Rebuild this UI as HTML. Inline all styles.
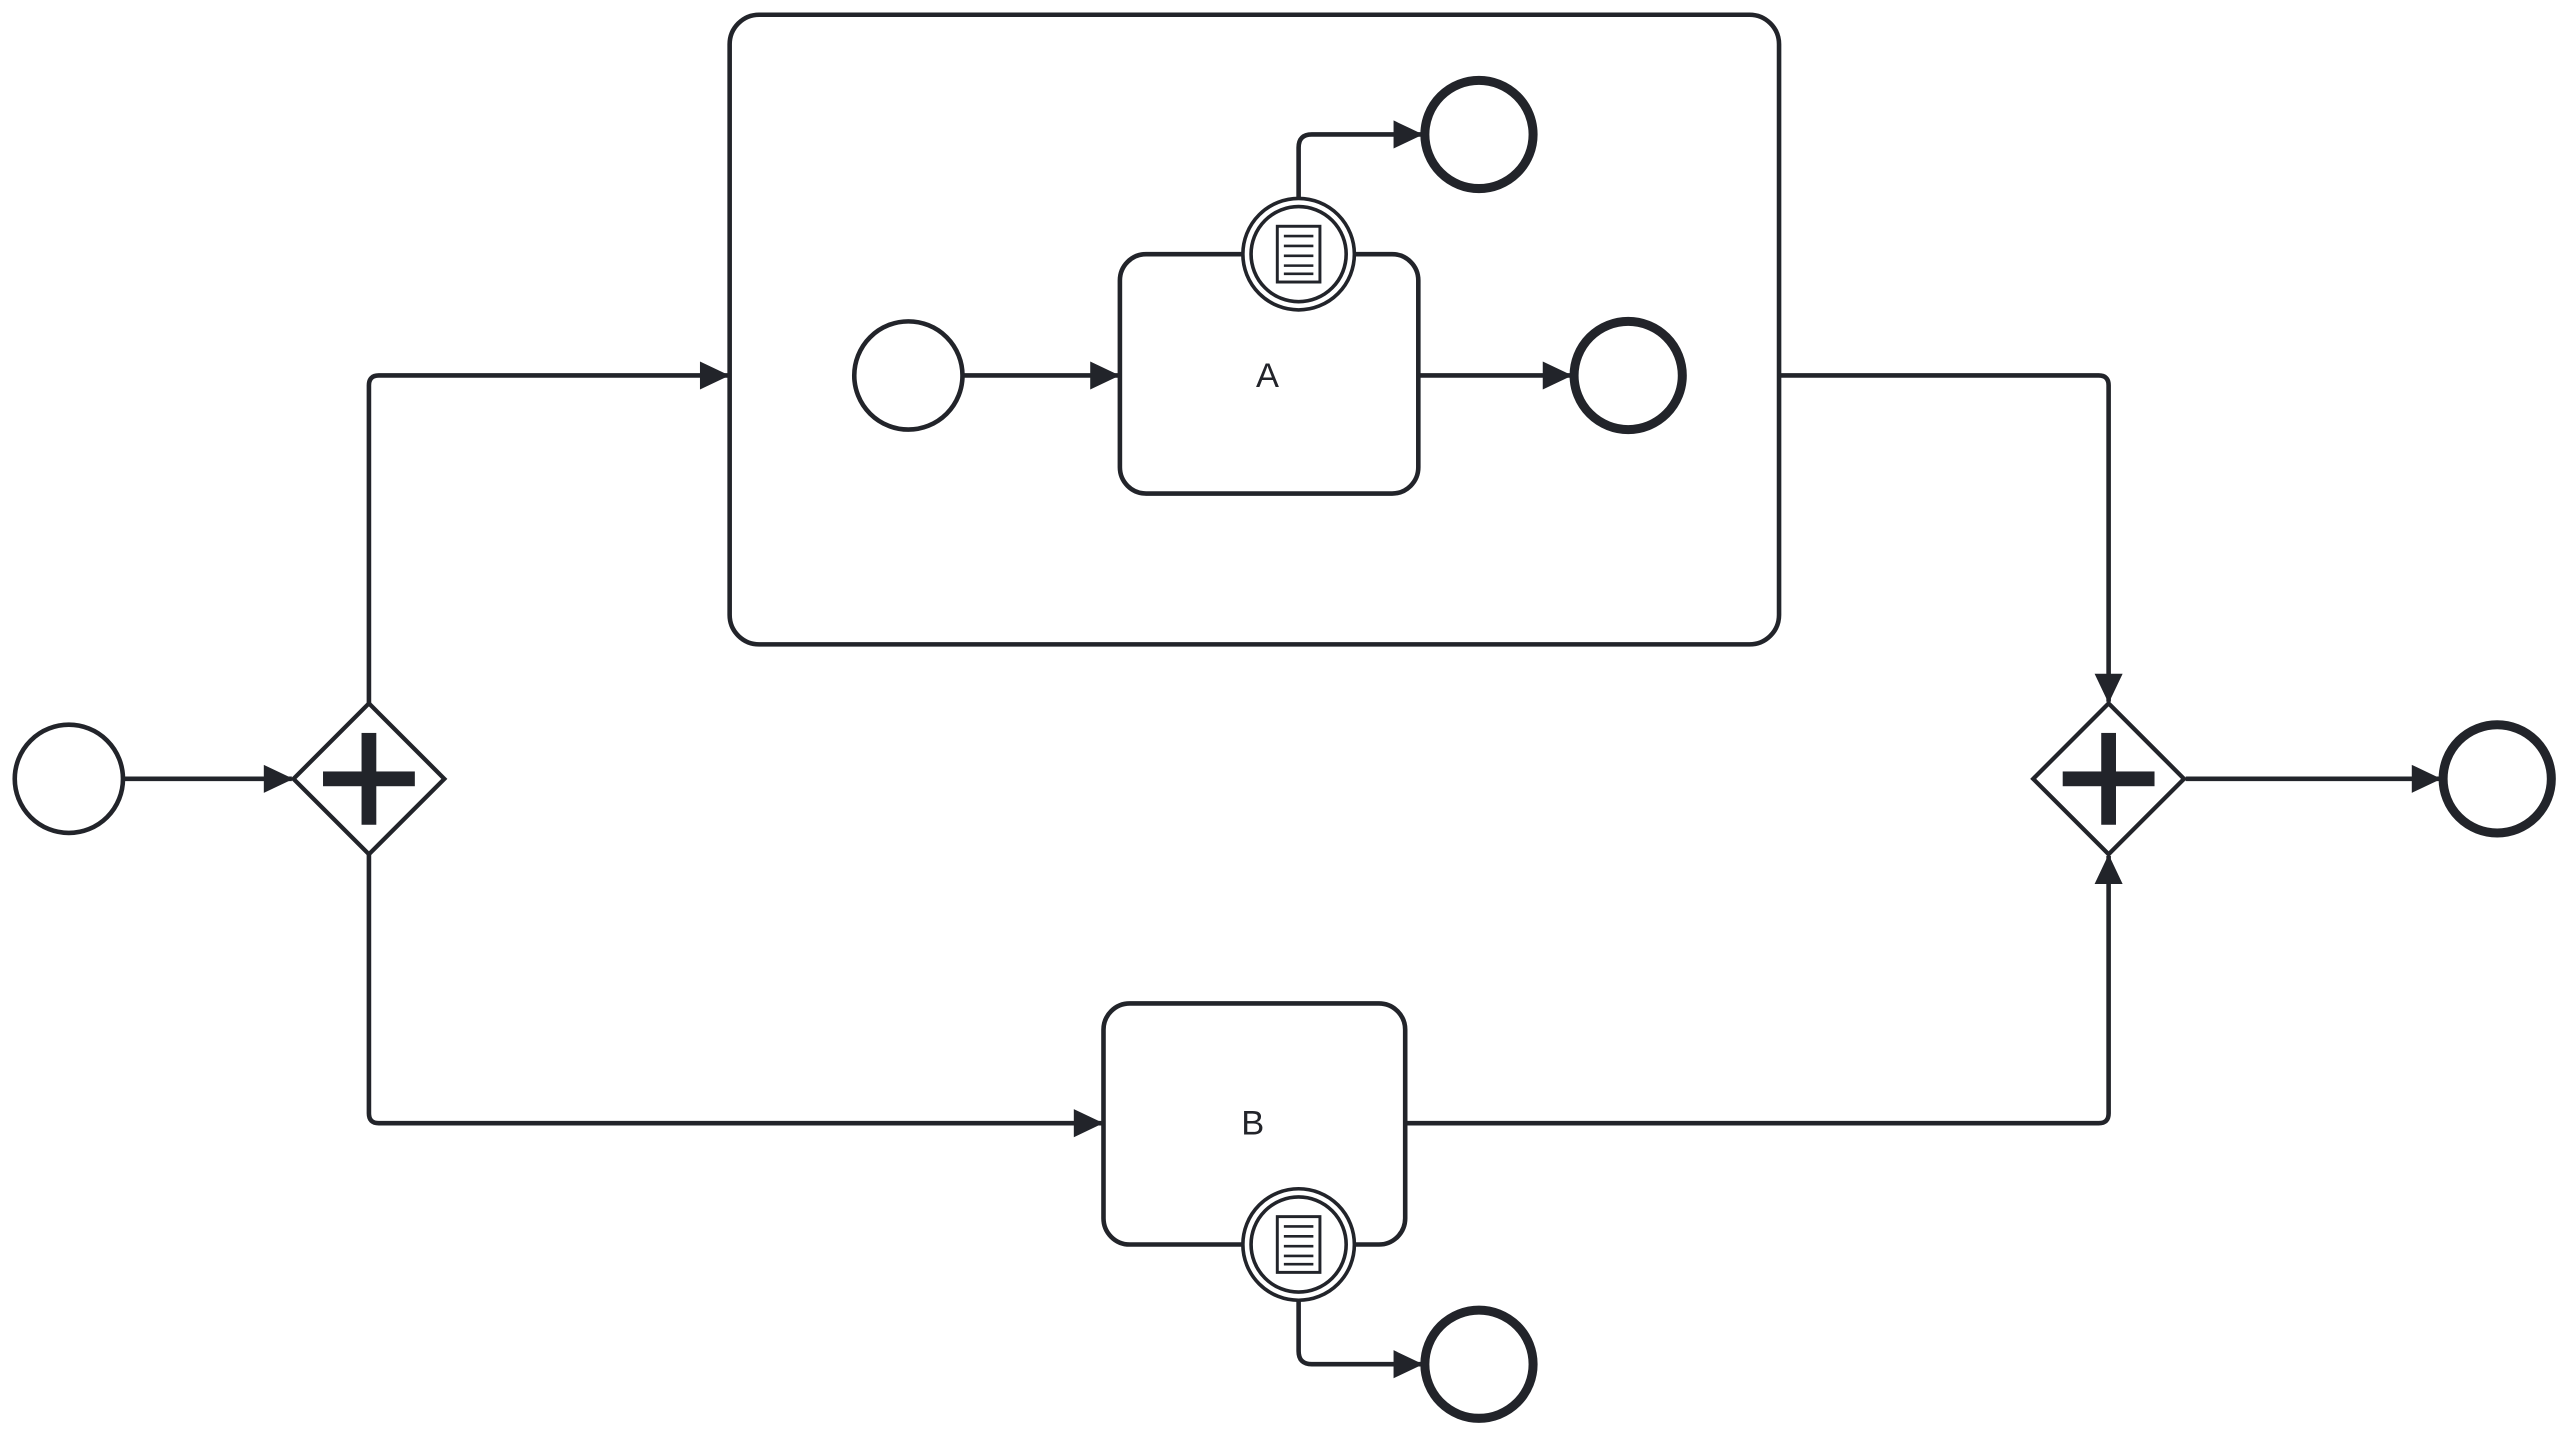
<!DOCTYPE html>
<html><head><meta charset="utf-8"><style>
html,body{margin:0;padding:0;background:#fff;width:2571px;height:1437px;overflow:hidden}
svg{display:block}
</style></head><body>
<svg width="2571" height="1437" viewBox="0 0 1568 876.4" preserveAspectRatio="none" xmlns="http://www.w3.org/2000/svg">
<defs>
<marker id="a" viewBox="0 0 20 20" refX="19" refY="10" markerWidth="19" markerHeight="18" markerUnits="userSpaceOnUse" orient="auto">
<path d="M0,0.5 L20,10 L0,19.5 Z" fill="#22242a"/>
</marker>
<g id="doc">
<circle r="34" fill="#fff" stroke="#22242a" stroke-width="2.2"/>
<circle r="29" fill="none" stroke="#22242a" stroke-width="2.2"/>
<rect x="-13" y="-17" width="26" height="34" fill="#fff" stroke="#22242a" stroke-width="1.8"/>
<path d="M-9,-11H9M-9,-5H9M-9,1H9M-9,7H9M-9,12H9" stroke="#22242a" stroke-width="1.6"/>
</g>
<g id="gw">
<path d="M0,-46 L46,0 L0,46 L-46,0 Z" fill="#fff" stroke="#22242a" stroke-width="2.6"/>
<rect x="-28" y="-4.5" width="56" height="9" fill="#22242a"/>
<rect x="-4.5" y="-28" width="9" height="56" fill="#22242a"/>
</g>
</defs>
<g fill="none" stroke="#22242a" stroke-width="2.8" stroke-linejoin="round">
<path d="M75,475 H178" marker-end="url(#a)"/>
<path d="M225,429 V235 Q225,229 231,229 H444" marker-end="url(#a)"/>
<path d="M225,521 V679 Q225,685 231,685 H672" marker-end="url(#a)"/>
<path d="M1085,229 H1280 Q1286,229 1286,235 V428" marker-end="url(#a)"/>
<path d="M857,685 H1280 Q1286,685 1286,679 V522" marker-end="url(#a)"/>
<path d="M1333,475 H1488" marker-end="url(#a)"/>
<rect x="445" y="9" width="640" height="384" rx="18" fill="#fff"/>
<path d="M587,229 H682" marker-end="url(#a)"/>
<path d="M865,229 H958" marker-end="url(#a)"/>
<rect x="683" y="155" width="182" height="146" rx="16" fill="#fff"/>
<rect x="673" y="612" width="184" height="147" rx="16" fill="#fff"/>
<circle cx="42" cy="475" r="33" fill="#fff"/>
<circle cx="554" cy="229" r="33" fill="#fff"/>
<circle cx="902" cy="82" r="33" fill="#fff" stroke-width="5.5"/>
<circle cx="993" cy="229" r="33" fill="#fff" stroke-width="5.5"/>
<circle cx="1523" cy="475" r="33" fill="#fff" stroke-width="5.5"/>
<circle cx="902" cy="832" r="33" fill="#fff" stroke-width="5.5"/>
<path d="M792,121 V90 Q792,82 800,82 H867" marker-end="url(#a)"/>
<path d="M792,793 V824 Q792,832 800,832 H867" marker-end="url(#a)"/>
</g>
<use href="#doc" x="792" y="155"/>
<use href="#doc" x="792" y="759"/>
<use href="#gw" x="225" y="475"/>
<use href="#gw" x="1286" y="475"/>
<text x="773" y="236" font-family="Liberation Sans, sans-serif" font-size="21" fill="#22242a" text-anchor="middle">A</text>
<text x="764" y="692" font-family="Liberation Sans, sans-serif" font-size="21" fill="#22242a" text-anchor="middle">B</text>
</svg>
</body></html>
